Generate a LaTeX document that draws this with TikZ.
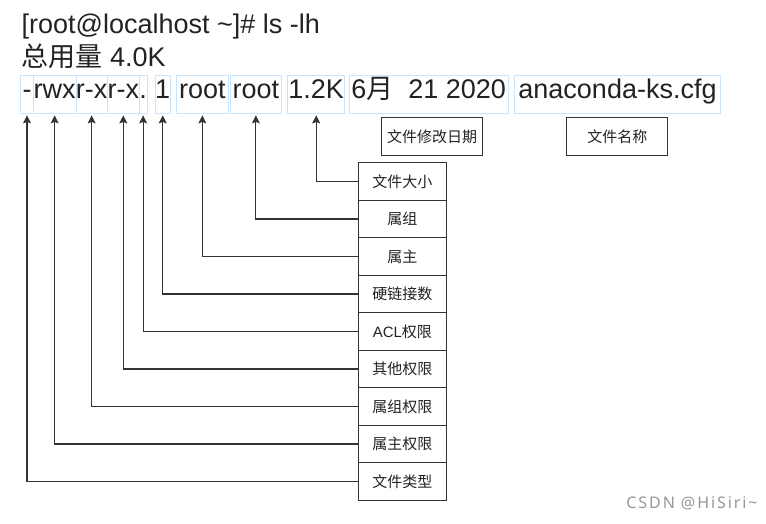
\documentclass[tikz,border=0pt]{standalone}
\usepackage{fontspec}
\setmainfont{Liberation Sans}
\newfontfamily\cjk{Noto Sans CJK SC}
\newfontfamily\markfont[LetterSpace=12]{Noto Sans}
\usetikzlibrary{arrows.meta,positioning}
\definecolor{selblue}{RGB}{204,229,255}
\definecolor{linegray}{RGB}{51,51,51}
\definecolor{inkgray}{RGB}{34,34,34}
\definecolor{markgray}{RGB}{150,150,150}
\tikzset{
  cell/.style={draw=selblue, line width=0.8pt, minimum height=38pt, inner sep=0pt,
    text height=15pt, text depth=6pt, text=inkgray, font=\fontsize{27}{32}\selectfont},
  tag/.style={draw=linegray, line width=1pt, minimum width=87.3pt, minimum height=37.5pt,
    inner sep=0pt, outer sep=0pt, text=inkgray, font=\fontsize{15}{18}\selectfont\cjk},
  ptr/.style={draw=linegray, line width=1.1pt, shorten >=2pt,
    -{Stealth[length=8pt,width=8pt,inset=1.5pt]}}
}
\begin{document}
\begin{tikzpicture}[x=1pt,y=-1pt]
  \useasboundingbox (0,0) rectangle (766,524);
  % Command and total
  \node[anchor=base west, inner sep=0pt, text=inkgray, font=\fontsize{27}{32}\selectfont] (cmd) at (21.5,34) {[root@localhost \textasciitilde]\# ls -lh};
  \node[anchor=base west, inner sep=0pt, text=inkgray, font=\fontsize{27}{32}\selectfont] (total) at (21.5,66.5) {{\cjk 总用量} 4.0K};
  % Listing fields
  \node[cell, minimum width=12.6pt] (ftype) at (27,94) {-};
  \node[cell, minimum width=42.7pt] (uperm) at (54.65,94) {rwx};
  \node[cell, minimum width=31.3pt] (gperm) at (91.65,94) {r-x};
  \node[cell, minimum width=32pt] (operm) at (123.3,94) {r-x};
  \node[cell, minimum width=7.7pt] (aclmark) at (143.15,94) {.};
  \node[cell, minimum width=12pt] (links) at (162.7,94) {1};
  \node[cell, minimum width=51.3pt] (owner) at (202.35,94) {root};
  \node[cell, minimum width=51.7pt] (group) at (255.85,94) {root};
  \node[cell, minimum width=57pt] (size) at (316.2,94) {1.2K};
  \node[cell, minimum width=159.3pt] (date) at (428.65,94) {6{\cjk 月}\ \ 21 2020};
  \node[cell, minimum width=206.4pt] (fname) at (617.5,94) {anaconda-ks.cfg};
  % Labels without connectors
  \node[tag, minimum width=101pt, minimum height=38.4pt] (datetag) at (432.2,136.5) {文件修改日期};
  \node[tag, minimum width=100.7pt, minimum height=38.4pt] (nametag) at (617.3,136.5) {文件名称};
  % Label stack
  \node[tag] (sizetag) at (402.35,181.45) {文件大小};
  \node[tag, below=0pt of sizetag] (grouptag) {属组};
  \node[tag, below=0pt of grouptag] (ownertag) {属主};
  \node[tag, below=0pt of ownertag] (linktag) {硬链接数};
  \node[tag, below=0pt of linktag] (acltag) {{\rmfamily ACL}权限};
  \node[tag, below=0pt of acltag] (otag) {其他权限};
  \node[tag, below=0pt of otag] (gtag) {属组权限};
  \node[tag, below=0pt of gtag] (utag) {属主权限};
  \node[tag, below=0pt of utag] (typetag) {文件类型};
  % Connectors
  \draw[ptr] (sizetag.west) -| (size.south);
  \draw[ptr] (grouptag.west) -| (group.south);
  \draw[ptr] (ownertag.west) -| (owner.south);
  \draw[ptr] (linktag.west) -| (links.south);
  \draw[ptr] (acltag.west) -| (aclmark.south);
  \draw[ptr] (otag.west) -| (operm.south);
  \draw[ptr] (gtag.west) -| (gperm.south);
  \draw[ptr] (utag.west) -| (uperm.south);
  \draw[ptr] (typetag.west) -| (ftype.south);
  % Watermark
  \node[text=markgray, font=\markfont\fontsize{16}{18}\selectfont] (mark) at (692,503) {CSDN @HiSiri\textasciitilde};
\end{tikzpicture}
\end{document}
